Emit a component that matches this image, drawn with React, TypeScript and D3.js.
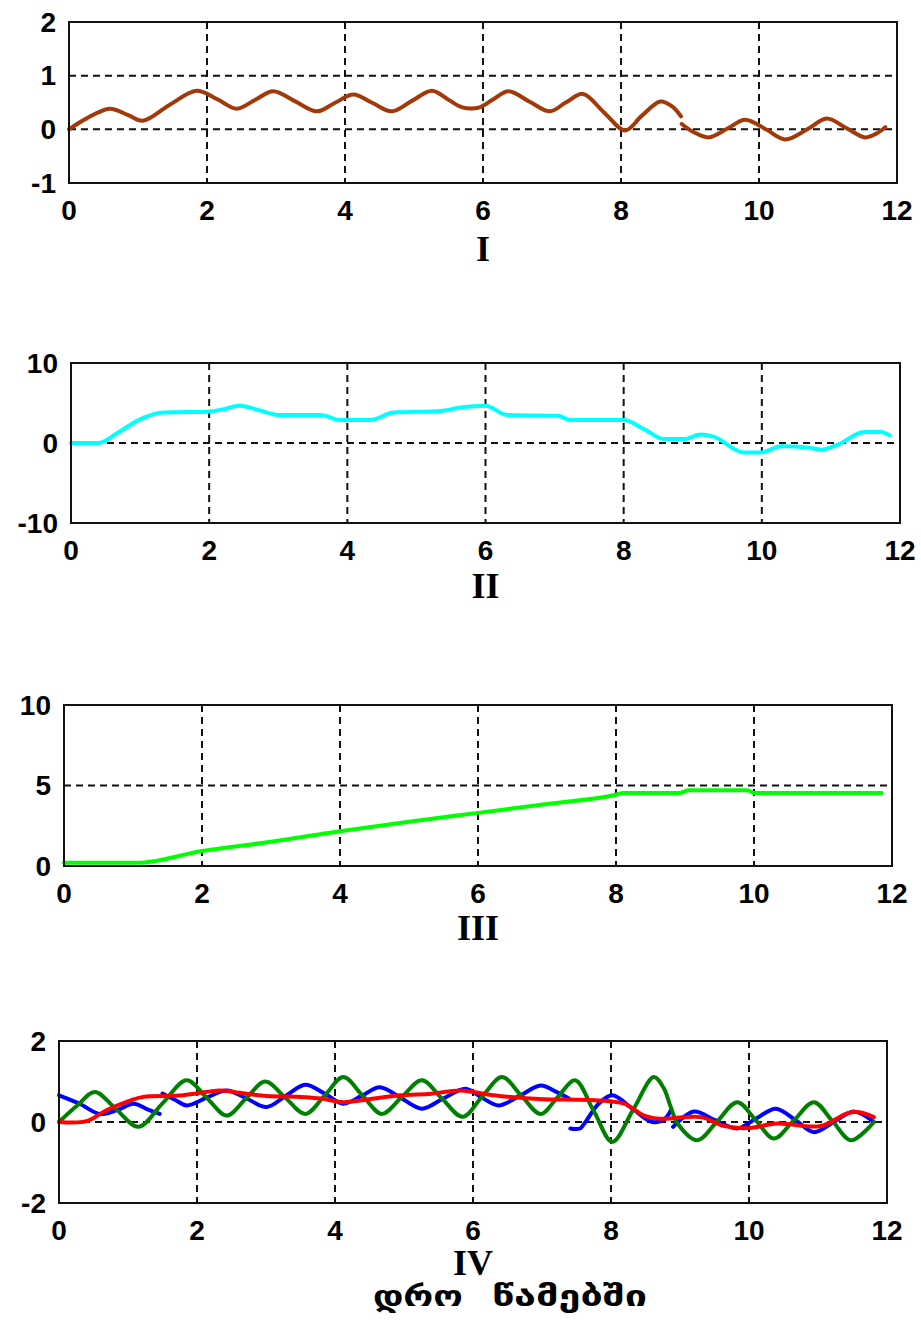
import React, { useEffect, useRef } from 'react';
import * as d3 from 'd3';

// panel I (brown)
const t1 = [0, 0.25, 0.59, 0.85, 1.07, 1.45, 1.85, 2.15, 2.43, 2.7, 2.96, 3.28, 3.59, 3.85, 4.12, 4.4, 4.68, 4.97, 5.26, 5.5, 5.7, 5.95, 6.15, 6.37, 6.67, 6.97, 7.2, 7.45, 7.75, 8.06, 8.3, 8.57, 8.75, 8.87, 8.88, 9.05, 9.27, 9.55, 9.8, 10.1, 10.38, 10.7, 10.98, 11.27, 11.54, 11.7, 11.83];
const v1 = [0, 0.2, 0.385, 0.27, 0.16, 0.45, 0.72, 0.56, 0.385, 0.55, 0.71, 0.52, 0.335, 0.49, 0.65, 0.49, 0.335, 0.53, 0.72, 0.55, 0.41, 0.41, 0.56, 0.71, 0.52, 0.335, 0.5, 0.66, 0.32, -0.02, 0.25, 0.52, 0.42, 0.24, 0.1, -0.05, -0.15, 0.02, 0.18, 0, -0.19, 0, 0.2, 0.02, -0.15, -0.08, 0.04];

// panel II (cyan)
const t2 = [0, 0.4, 0.7, 1.0, 1.34, 1.97, 2.2, 2.43, 2.84, 3.0, 3.61, 3.9, 4.33, 4.67, 5.35, 5.64, 6.0, 6.31, 7.04, 7.23, 8.0, 8.3, 8.58, 8.87, 9.12, 9.3, 9.74, 9.99, 10.28, 10.66, 10.86, 11.1, 11.48, 11.72, 11.85];
const v2 = [0, 0, 1.4, 2.95, 3.8, 3.92, 4.2, 4.65, 3.8, 3.5, 3.5, 2.87, 2.87, 3.8, 4.0, 4.43, 4.65, 3.5, 3.4, 2.87, 2.87, 1.7, 0.5, 0.5, 1.05, 0.8, -1.18, -1.18, -0.42, -0.55, -0.84, -0.21, 1.39, 1.39, 0.97];

// panel III (green)
const t3 = [0, 1.06, 2.0, 3.0, 4.0, 5.0, 6.0, 7.0, 8.0, 8.11, 8.93, 9.05, 9.9, 10.0, 11.85];
const v3 = [0.2, 0.2, 0.93, 1.5, 2.16, 2.75, 3.3, 3.85, 4.43, 4.54, 4.54, 4.7, 4.7, 4.54, 4.54];

// panel IV
const t4blue = [0, 0.3, 0.59, 0.85, 1.08, 1.3, 1.46, 1.5, 1.68, 1.85, 2.14, 2.43, 2.72, 3.01, 3.29, 3.57, 3.85, 4.12, 4.39, 4.65, 4.95, 5.26, 5.57, 5.89, 6.13, 6.37, 6.68, 6.98, 7.2, 7.39, 7.41, 7.55, 7.63, 7.82, 8.02, 8.31, 8.6, 8.78, 8.87, 8.9, 9.2, 9.5, 9.83, 10.1, 10.39, 10.67, 10.94, 11.23, 11.52, 11.81];
const v4blue = [0.66, 0.45, 0.2, 0.3, 0.45, 0.3, 0.2, 0.7, 0.55, 0.41, 0.6, 0.78, 0.58, 0.37, 0.65, 0.92, 0.7, 0.45, 0.65, 0.86, 0.6, 0.33, 0.58, 0.82, 0.6, 0.41, 0.65, 0.9, 0.75, 0.58, -0.16, -0.16, 0, 0.45, 0.66, 0.33, 0, 0.08, 0.3, -0.12, 0.26, 0.05, -0.16, 0.08, 0.33, 0.05, -0.25, 0, 0.26, 0];
const t4green = [0, 0.26, 0.52, 0.83, 1.15, 1.5, 1.85, 2.14, 2.43, 2.71, 2.99, 3.28, 3.57, 3.85, 4.12, 4.4, 4.68, 4.97, 5.26, 5.55, 5.85, 6.13, 6.42, 6.7, 6.98, 7.23, 7.48, 7.75, 8.02, 8.32, 8.62, 8.76, 8.87, 8.97, 9.25, 9.54, 9.83, 10.1, 10.36, 10.65, 10.94, 11.21, 11.48, 11.81];
const v4green = [0, 0.4, 0.74, 0.31, -0.12, 0.46, 1.03, 0.6, 0.16, 0.58, 1.0, 0.6, 0.2, 0.65, 1.11, 0.65, 0.2, 0.62, 1.03, 0.58, 0.13, 0.62, 1.11, 0.65, 0.2, 0.62, 1.03, 0.27, -0.49, 0.3, 1.11, 0.85, 0.35, -0.05, -0.45, 0.02, 0.49, 0.04, -0.41, 0.04, 0.49, 0.02, -0.45, 0];
const t4red = [0, 0.4, 0.7, 1.03, 1.22, 1.8, 2.33, 2.62, 3.01, 3.49, 3.8, 4.12, 4.44, 4.94, 5.4, 5.82, 6.3, 7.02, 7.5, 7.99, 8.2, 8.48, 8.72, 9.3, 9.64, 9.98, 10.41, 11.04, 11.43, 11.6, 11.81];
const v4red = [0, 0.02, 0.3, 0.53, 0.62, 0.66, 0.78, 0.72, 0.64, 0.62, 0.58, 0.49, 0.55, 0.66, 0.7, 0.78, 0.66, 0.56, 0.55, 0.51, 0.45, 0.16, 0.08, 0.12, -0.1, -0.15, -0.04, -0.1, 0.22, 0.24, 0.12];

const xTicks = [0, 2, 4, 6, 8, 10, 12];

const panels = [
  { left: 69, right: 897, top: 22, bottom: 183, y: [-1, 2], yTicks: [-1, 0, 1, 2], name: 'I', nameDy: 66,
    lines: [{ t: t1, v: v1, color: '#a33808', curve: 'smooth' }] },
  { left: 71, right: 900, top: 363, bottom: 523, y: [-10, 10], yTicks: [-10, 0, 10], name: 'II', nameDy: 63,
    lines: [{ t: t2, v: v2, color: '#00ffff', curve: 'mono' }] },
  { left: 64, right: 892, top: 705, bottom: 866, y: [0, 10], yTicks: [0, 5, 10], name: 'III', nameDy: 62,
    lines: [{ t: t3, v: v3, color: '#00ff00', curve: 'mono' }] },
  { left: 59, right: 887, top: 1041, bottom: 1203, y: [-2, 2], yTicks: [-2, 0, 2], name: 'IV', nameDy: 60,
    lines: [
      { t: t4blue, v: v4blue, color: '#0000ff', curve: 'smooth' },
      { t: t4green, v: v4green, color: '#008000', curve: 'smooth' },
      { t: t4red, v: v4red, color: '#ff0000', curve: 'smooth' },
    ] },
];

function App() {
  const ref = useRef(null);

  useEffect(() => {
    const svg = d3.select(ref.current);
    svg.selectAll('*').remove();

    panels.forEach(p => {
      const x = d3.scaleLinear().domain([0, 12]).range([p.left, p.right]);
      const y = d3.scaleLinear().domain(p.y).range([p.bottom, p.top]);
      const g = svg.append('g');

      // grid
      g.selectAll('.vg')
        .data(xTicks.slice(1, -1)).enter()
        .append('line')
        .attr('x1', d => x(d)).attr('x2', d => x(d))
        .attr('y1', p.top).attr('y2', p.bottom)
        .attr('stroke', '#111').attr('stroke-width', 2)
        .attr('stroke-dasharray', '7,5');
      g.selectAll('.hg')
        .data(p.yTicks.slice(1, -1)).enter()
        .append('line')
        .attr('x1', p.left).attr('x2', p.right)
        .attr('y1', d => y(d)).attr('y2', d => y(d))
        .attr('stroke', '#111').attr('stroke-width', 2)
        .attr('stroke-dasharray', '7,5');

      // curves, broken where the trace jumps (two samples almost on top of each other)
      p.lines.forEach(l => {
        const segs = [];
        let cur = [];
        l.t.forEach((t, i) => {
          if (i > 0 && t - l.t[i - 1] < 0.045) {
            segs.push(cur);
            cur = [];
          }
          cur.push([t, l.v[i]]);
        });
        segs.push(cur);
        const line = d3.line()
          .x(d => x(d[0]))
          .y(d => y(d[1]))
          .curve(l.curve === 'smooth' ? d3.curveCatmullRom.alpha(0.5) : d3.curveMonotoneX);
        segs.forEach(s => {
          g.append('path')
            .attr('d', line(s))
            .attr('fill', 'none')
            .attr('stroke', l.color)
            .attr('stroke-width', 4)
            .attr('stroke-linejoin', 'round')
            .attr('stroke-linecap', 'round');
        });
      });

      // frame
      g.append('rect')
        .attr('x', p.left).attr('y', p.top)
        .attr('width', p.right - p.left).attr('height', p.bottom - p.top)
        .attr('fill', 'none').attr('stroke', '#111').attr('stroke-width', 2);

      // tick labels
      g.selectAll('.xl')
        .data(xTicks).enter()
        .append('text')
        .attr('x', d => x(d))
        .attr('y', p.bottom + 27)
        .attr('text-anchor', 'middle')
        .attr('dominant-baseline', 'central')
        .style('font', 'bold 28px "Liberation Sans", Arial, sans-serif')
        .text(d => d);
      g.selectAll('.yl')
        .data(p.yTicks).enter()
        .append('text')
        .attr('x', p.left - 13)
        .attr('y', d => y(d))
        .attr('text-anchor', 'end')
        .attr('dominant-baseline', 'central')
        .style('font', 'bold 28px "Liberation Sans", Arial, sans-serif')
        .text(d => d);

      g.append('text')
        .attr('x', (p.left + p.right) / 2)
        .attr('y', p.bottom + p.nameDy)
        .attr('text-anchor', 'middle')
        .attr('dominant-baseline', 'central')
        .style('font', 'bold 36px "Liberation Serif", "Times New Roman", serif')
        .text(p.name);
    });

    // x axis caption
    svg.append('text')
      .attr('x', 373).attr('y', 1306)
      .attr('textLength', 90)
      .attr('lengthAdjust', 'spacingAndGlyphs')
      .style('font', 'bold 28px "DejaVu Sans", sans-serif')
      .text('დრო');
    svg.append('text')
      .attr('x', 492).attr('y', 1306)
      .attr('textLength', 155)
      .attr('lengthAdjust', 'spacingAndGlyphs')
      .style('font', 'bold 28px "DejaVu Sans", sans-serif')
      .text('წამებში');
  }, []);

  return (
    <svg ref={ref} width={921} height={1320}
      style={{ position: 'absolute', left: 0, top: 0, background: '#fff' }} />
  );
}

export default App;
